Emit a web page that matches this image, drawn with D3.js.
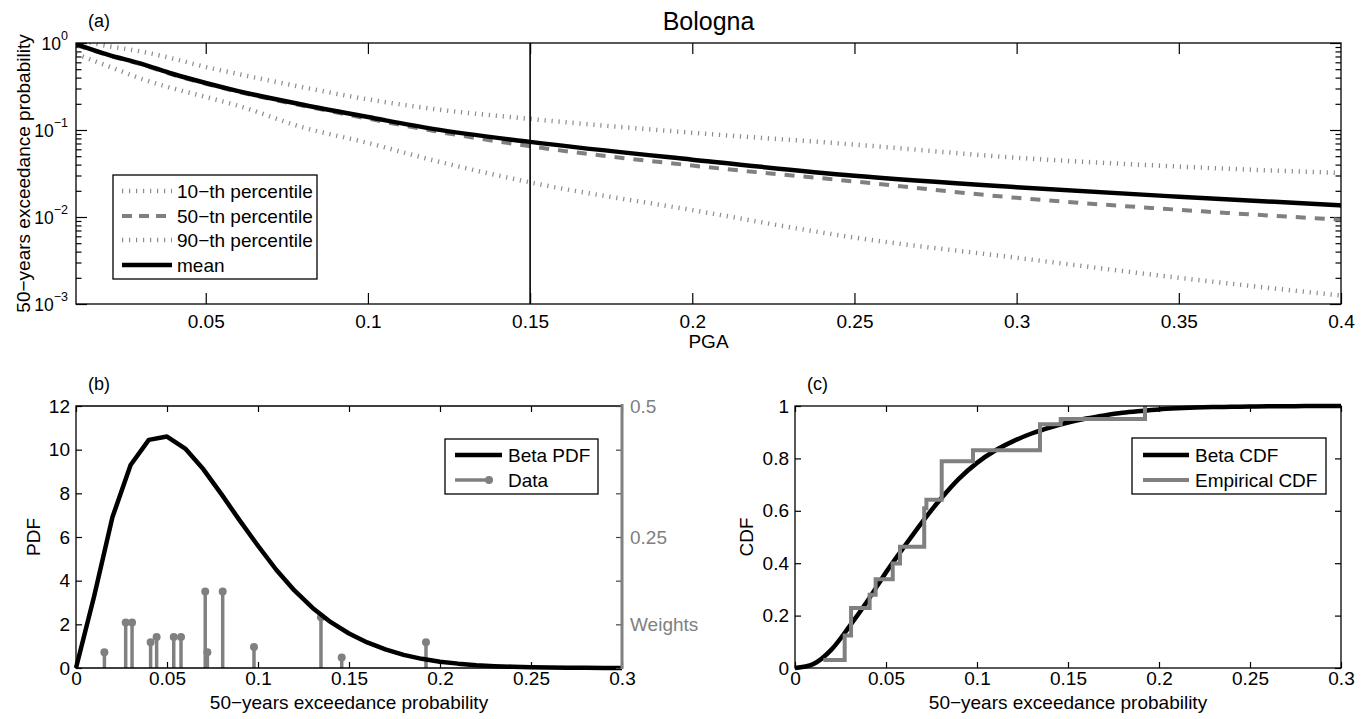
<!DOCTYPE html>
<html>
<head>
<meta charset="utf-8">
<script src="https://cdn.jsdelivr.net/npm/d3@7"></script>
<style>
  body { margin: 0; background: #fff; }
  svg text { font-family: "Liberation Sans", Arial, Helvetica, sans-serif; fill: #000; }
</style>
</head>
<body>
<div id="chart"></div>
<script>
// ---- (a) hazard curves, Bologna ----
const pga   = [0.01, 0.02, 0.03, 0.04, 0.05, 0.06, 0.08, 0.1, 0.12, 0.15, 0.2, 0.25, 0.3, 0.35, 0.4];
const p10   = [0.75, 0.54, 0.39, 0.30, 0.24, 0.19, 0.107, 0.071, 0.045, 0.025, 0.012, 0.0058, 0.0034, 0.002, 0.00125];
const p50   = [0.95, 0.72, 0.57, 0.43, 0.34, 0.275, 0.19, 0.135, 0.098, 0.065, 0.039, 0.0256, 0.0166, 0.0121, 0.0093];
const p90   = [1.1, 0.92, 0.8, 0.66, 0.53, 0.44, 0.31, 0.225, 0.175, 0.134, 0.093, 0.068, 0.048, 0.038, 0.032];
const pMean = [0.97, 0.73, 0.58, 0.44, 0.347, 0.28, 0.195, 0.141, 0.103, 0.073, 0.0456, 0.0298, 0.022, 0.0171, 0.0136];
const pgaMarker = 0.15;
const pgaTicks = [0.05, 0.1, 0.15, 0.2, 0.25, 0.3, 0.35, 0.4];

// ---- (b) and (c) beta fit of the exceedance probability at PGA 0.15 ----
const probGrid = [0, 0.01, 0.02, 0.03, 0.04, 0.05, 0.06, 0.07, 0.08, 0.09, 0.1, 0.11, 0.12, 0.13, 0.14, 0.15,
                  0.16, 0.17, 0.18, 0.19, 0.2, 0.21, 0.22, 0.23, 0.24, 0.25, 0.26, 0.27, 0.28, 0.29, 0.3];
const betaPdf = [0, 3.3, 6.9, 9.3, 10.45, 10.6, 10.05, 9.1, 7.95, 6.75, 5.6, 4.5, 3.55, 2.75, 2.1, 1.58,
                 1.17, 0.85, 0.6, 0.42, 0.29, 0.2, 0.13, 0.085, 0.055, 0.035, 0.022, 0.013, 0.008, 0.005, 0.003];
const betaCdf = [0, 0.015, 0.07, 0.16, 0.258, 0.365, 0.463, 0.558, 0.645, 0.722, 0.783, 0.83, 0.866, 0.895, 0.918, 0.937,
                 0.952, 0.964, 0.974, 0.981, 0.987, 0.991, 0.994, 0.996, 0.997, 0.998, 0.999, 0.999, 1, 1, 1];
const dataProb   = [0.0156, 0.0273, 0.0308, 0.041, 0.0443, 0.0537, 0.0577, 0.071, 0.0722, 0.0806, 0.0978, 0.1346, 0.146, 0.1923];
const dataWeight = [0.030, 0.087, 0.087, 0.049, 0.059, 0.059, 0.059, 0.146, 0.030, 0.146, 0.040, 0.097, 0.020, 0.049];
const ecdfLevel  = [0.031, 0.124, 0.229, 0.28, 0.339, 0.399, 0.463, 0.61, 0.642, 0.789, 0.831, 0.93, 0.95, 1.0];
const probTicks = [0, 0.05, 0.1, 0.15, 0.2, 0.25, 0.3];
const pdfTicks = [0, 2, 4, 6, 8, 10, 12];
const cdfTicks = [0, 0.2, 0.4, 0.6, 0.8, 1];
const weightTickLabels = ['', 'Weights', '', '0.25', '', '', '0.5'];

const width = 1372, height = 719;
const GRAY = '#808080';
const FS = 19;

const svg = d3.select('#chart')
  .append('svg')
    .attr('width', width)
    .attr('height', height)
    .attr('viewBox', [0, 0, width, height]);

// small helper for the legend boxes
function legend(x, y, w, h, rows) {
  const g = svg.append('g');
  g.append('rect')
    .attr('x', x).attr('y', y).attr('width', w).attr('height', h)
    .attr('fill', '#fff').attr('stroke', '#000').attr('stroke-width', 1.3);
  rows.forEach(r => {
    g.append('line')
      .attr('x1', r.x1).attr('x2', r.x2).attr('y1', r.y).attr('y2', r.y)
      .attr('stroke', r.color).attr('stroke-width', r.width)
      .attr('stroke-dasharray', r.dash || null);
    if (r.marker) {
      g.append('circle').attr('cx', r.x2).attr('cy', r.y).attr('r', 4).attr('fill', r.color);
    }
    g.append('text')
      .attr('x', r.tx).attr('y', r.y).attr('dy', '0.35em')
      .attr('font-size', FS)
      .text(r.label);
  });
}

function styleAxis(g, color) {
  g.select('.domain').remove();
  g.selectAll('.tick line').attr('stroke', color || '#000').attr('stroke-width', 1.2);
  g.selectAll('.tick text').attr('font-size', FS).attr('font-family', null);
}

// ================= panel (a) =================
const ax = { l: 76, r: 1341, t: 43, b: 304 };
const xA = d3.scaleLinear().domain([0.01, 0.4]).range([ax.l, ax.r]);
const yA = d3.scaleLog().domain([1e-3, 1]).range([ax.b, ax.t]);

svg.append('clipPath').attr('id', 'clipA')
  .append('rect').attr('x', ax.l).attr('y', ax.t).attr('width', ax.r - ax.l).attr('height', ax.b - ax.t);

const majorLog = [1e-3, 1e-2, 1e-1, 1];
const minorLog = [];
[1e-3, 1e-2, 1e-1].forEach(d => { for (let k = 2; k <= 9; k++) minorLog.push(d * k); });

svg.append('g').attr('transform', `translate(0,${ax.b})`)
  .call(d3.axisBottom(xA).tickValues(pgaTicks).tickSize(-11).tickPadding(11).tickFormat(d3.format('')))
  .call(g => styleAxis(g));
svg.append('g').attr('transform', `translate(0,${ax.t})`)
  .call(d3.axisTop(xA).tickValues(pgaTicks.slice(0, -1)).tickSize(-11).tickFormat(''))
  .call(g => styleAxis(g));

const leftA = svg.append('g').attr('transform', `translate(${ax.l},0)`)
  .call(d3.axisLeft(yA).tickValues(majorLog).tickSize(-11).tickPadding(8))
  .call(g => styleAxis(g));
leftA.selectAll('.tick text').each(function(d) {
  const t = d3.select(this).text('');
  t.append('tspan').attr('font-size', 17.5).text('10');
  t.append('tspan').attr('font-size', 12.5).attr('dy', '-0.75em').text(String(Math.round(Math.log10(d))).replace('-', '\u2212'));
});
svg.append('g').attr('transform', `translate(${ax.l},0)`)
  .call(d3.axisLeft(yA).tickValues(minorLog).tickSize(-5.5).tickFormat(''))
  .call(g => styleAxis(g));
svg.append('g').attr('transform', `translate(${ax.r},0)`)
  .call(d3.axisRight(yA).tickValues(majorLog).tickSize(-11).tickFormat(''))
  .call(g => styleAxis(g));
svg.append('g').attr('transform', `translate(${ax.r},0)`)
  .call(d3.axisRight(yA).tickValues(minorLog).tickSize(-5.5).tickFormat(''))
  .call(g => styleAxis(g));

const lineA = vals => d3.line()
  .x((d, i) => xA(pga[i]))
  .y(d => yA(d))
  .curve(d3.curveMonotoneX)(vals);

const curvesA = svg.append('g').attr('clip-path', 'url(#clipA)').attr('fill', 'none');
curvesA.append('path').attr('d', lineA(p10)).attr('stroke', '#8c8c8c').attr('stroke-width', 4.5).attr('stroke-dasharray', '1.2 5.8');
curvesA.append('path').attr('d', lineA(p90)).attr('stroke', '#8c8c8c').attr('stroke-width', 4.5).attr('stroke-dasharray', '1.2 5.8');
curvesA.append('path').attr('d', lineA(p50)).attr('stroke', GRAY).attr('stroke-width', 4).attr('stroke-dasharray', '10 9');
curvesA.append('path').attr('d', lineA(pMean)).attr('stroke', '#000').attr('stroke-width', 4.5);

svg.append('line')
  .attr('x1', xA(pgaMarker)).attr('x2', xA(pgaMarker))
  .attr('y1', ax.t).attr('y2', ax.b)
  .attr('stroke', '#000').attr('stroke-width', 1.6);

svg.append('rect')
  .attr('x', ax.l).attr('y', ax.t).attr('width', ax.r - ax.l).attr('height', ax.b - ax.t)
  .attr('fill', 'none').attr('stroke', '#000').attr('stroke-width', 1.3);

legend(113, 175, 204, 104, [
  { y: 191, x1: 122, x2: 172, tx: 177, color: '#8c8c8c', width: 4.5, dash: '1.2 5.8', label: '10\u2212th percentile' },
  { y: 216, x1: 122, x2: 172, tx: 177, color: GRAY, width: 4, dash: '10 7', label: '50\u2212tn percentile' },
  { y: 240, x1: 122, x2: 172, tx: 177, color: '#8c8c8c', width: 4.5, dash: '1.2 5.8', label: '90\u2212th percentile' },
  { y: 265, x1: 122, x2: 172, tx: 177, color: '#000', width: 4.5, label: 'mean' }
]);

svg.append('text').attr('x', (ax.l + ax.r) / 2).attr('y', 30).attr('text-anchor', 'middle')
  .attr('font-size', 25).text('Bologna');
svg.append('text').attr('x', 88).attr('y', 27).attr('font-size', 18).text('(a)');
svg.append('text').attr('x', (ax.l + ax.r) / 2).attr('y', 348).attr('text-anchor', 'middle')
  .attr('font-size', FS).text('PGA');
svg.append('text')
  .attr('transform', `translate(30,${(ax.t + ax.b) / 2}) rotate(-90)`)
  .attr('text-anchor', 'middle').attr('font-size', FS)
  .text('50\u2212years exceedance probability');

// ================= panels (b) and (c) shared frame =================
function lowerPanel(left, right, yScale, yTicks, label, ylabel, ylabelGap) {
  const top = 406, bottom = 668;
  const x = d3.scaleLinear().domain([0, 0.3]).range([left, right]);
  svg.append('g').attr('transform', `translate(0,${bottom})`)
    .call(d3.axisBottom(x).tickValues(probTicks).tickSize(-6).tickPadding(4).tickFormat(d3.format('')))
    .call(g => styleAxis(g));
  svg.append('g').attr('transform', `translate(0,${top})`)
    .call(d3.axisTop(x).tickValues(probTicks).tickSize(-6).tickFormat(''))
    .call(g => styleAxis(g));
  svg.append('g').attr('transform', `translate(${left},0)`)
    .call(d3.axisLeft(yScale).tickValues(yTicks).tickSize(-6).tickPadding(6).tickFormat(d3.format('')))
    .call(g => styleAxis(g));
  svg.append('text').attr('x', left + 12).attr('y', 390).attr('font-size', 18).text(label);
  svg.append('text').attr('x', (left + right) / 2).attr('y', 709).attr('text-anchor', 'middle')
    .attr('font-size', FS).text('50\u2212years exceedance probability');
  svg.append('text')
    .attr('transform', `translate(${left - ylabelGap},${(top + bottom) / 2}) rotate(-90)`)
    .attr('text-anchor', 'middle').attr('font-size', FS).text(ylabel);
  return x;
}

// ---- (b) ----
const yB = d3.scaleLinear().domain([0, 12]).range([668, 406]);
const yW = d3.scaleLinear().domain([0, 0.5]).range([668, 406]);
const xB = lowerPanel(76, 622, yB, pdfTicks, '(b)', 'PDF', 36);

// stems of the weighted data (right axis)
const stems = svg.append('g').selectAll('.stem')
  .data(dataProb.map((p, i) => ({ p, w: dataWeight[i] })))
  .join('g').attr('class', 'stem');
stems.append('line')
  .attr('x1', d => xB(d.p)).attr('x2', d => xB(d.p))
  .attr('y1', yW(0)).attr('y2', d => yW(d.w))
  .attr('stroke', GRAY).attr('stroke-width', 3.5);
stems.append('circle')
  .attr('cx', d => xB(d.p)).attr('cy', d => yW(d.w)).attr('r', 4)
  .attr('fill', GRAY);

svg.append('path')
  .attr('d', d3.line().x((d, i) => xB(probGrid[i])).y(d => yB(d))(betaPdf))
  .attr('fill', 'none').attr('stroke', '#000').attr('stroke-width', 4.5).attr('stroke-linejoin', 'round');

// frame lines: top and left black, bottom black, right is the gray weights axis
svg.append('path').attr('d', `M622,406H76V668H622`).attr('fill', 'none').attr('stroke', '#000').attr('stroke-width', 1.3);
const weightTicks = weightTickLabels.map((s, i) => i * 0.5 / (weightTickLabels.length - 1));
const rightB = svg.append('g').attr('transform', 'translate(622,0)')
  .call(d3.axisRight(yW).tickValues(weightTicks).tickSize(-6).tickPadding(8)
    .tickFormat((d, i) => weightTickLabels[i]));
rightB.select('.domain').remove();
rightB.selectAll('.tick line').attr('stroke', '#444').attr('stroke-width', 1.2);
rightB.selectAll('.tick text').attr('font-size', FS).style('fill', GRAY);
svg.append('line').attr('x1', 622).attr('x2', 622).attr('y1', 404).attr('y2', 669)
  .attr('stroke', GRAY).attr('stroke-width', 3);

legend(445, 439, 153, 55, [
  { y: 455, x1: 455, x2: 502, tx: 508, color: '#000', width: 4.5, label: 'Beta PDF' },
  { y: 480, x1: 455, x2: 489, tx: 508, color: GRAY, width: 3.5, marker: true, label: 'Data' }
]);

// ---- (c) ----
const yC = d3.scaleLinear().domain([0, 1]).range([668, 406]);
const xC = lowerPanel(795, 1341, yC, cdfTicks, '(c)', 'CDF', 42);
svg.append('g').attr('transform', 'translate(1341,0)')
  .call(d3.axisRight(yC).tickValues(cdfTicks).tickSize(-6).tickFormat(''))
  .call(g => styleAxis(g));

svg.append('path')
  .attr('d', d3.line().x((d, i) => xC(probGrid[i])).y(d => yC(d)).curve(d3.curveMonotoneX)(betaCdf))
  .attr('fill', 'none').attr('stroke', '#000').attr('stroke-width', 4.5);
svg.append('path')
  .attr('d', d3.line().x((d, i) => xC(dataProb[i])).y(d => yC(d)).curve(d3.curveStepAfter)(ecdfLevel))
  .attr('fill', 'none').attr('stroke', GRAY).attr('stroke-width', 4);

svg.append('rect').attr('x', 795).attr('y', 406).attr('width', 546).attr('height', 262)
  .attr('fill', 'none').attr('stroke', '#000').attr('stroke-width', 1.3);

legend(1132, 438, 194, 56, [
  { y: 455, x1: 1143, x2: 1189, tx: 1195, color: '#000', width: 4.5, label: 'Beta CDF' },
  { y: 480, x1: 1143, x2: 1189, tx: 1195, color: GRAY, width: 4, label: 'Empirical CDF' }
]);
</script>
</body>
</html>
